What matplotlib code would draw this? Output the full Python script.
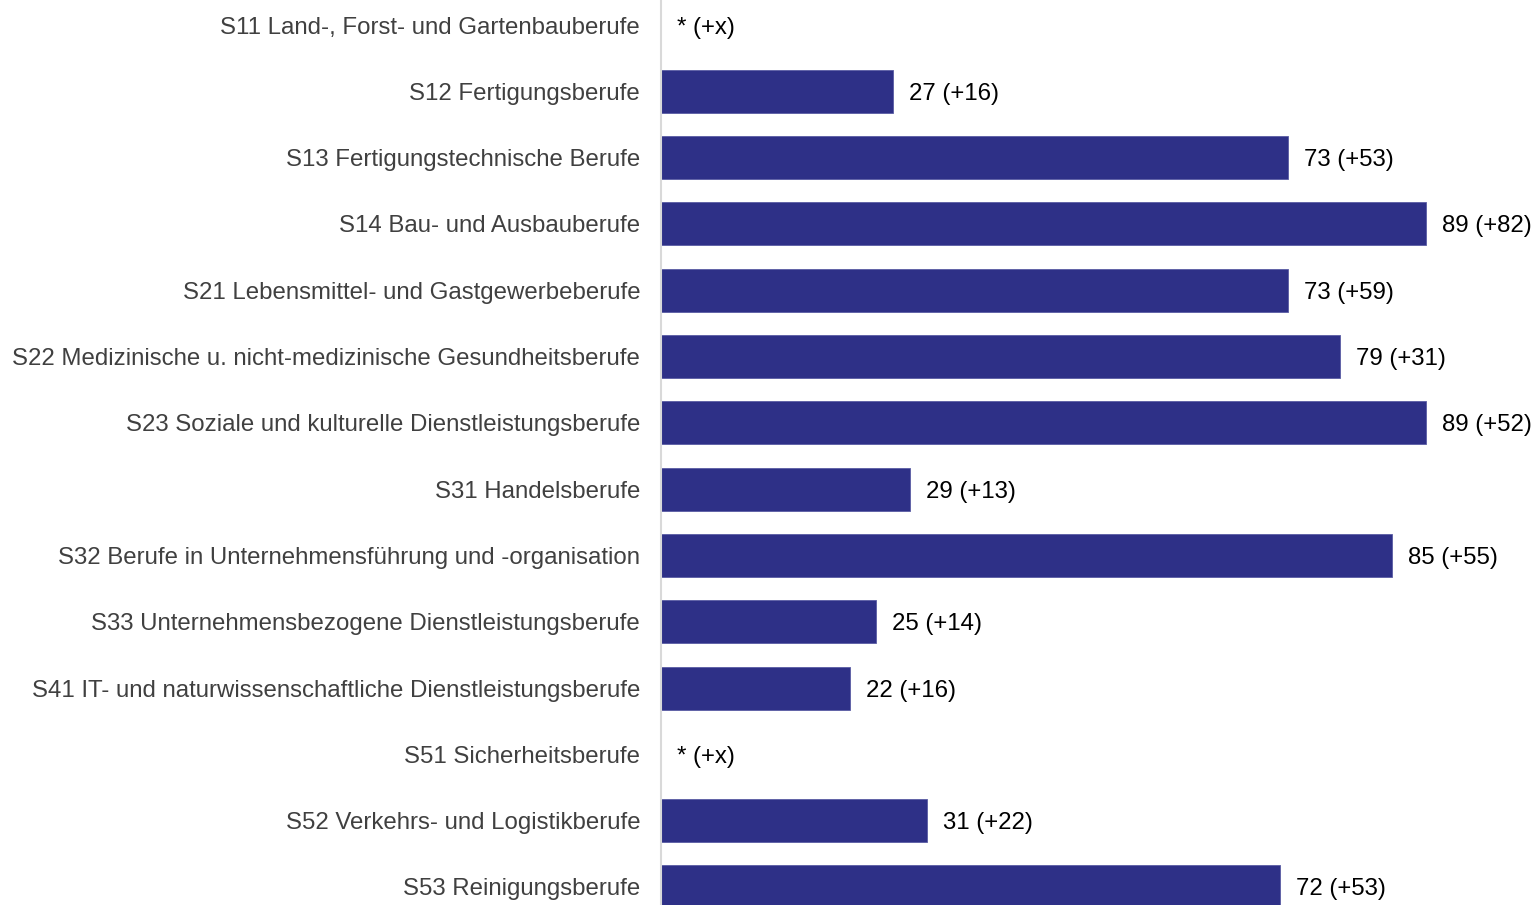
import matplotlib.pyplot as plt

plt.rcParams["font.family"] = ["Liberation Sans", "DejaVu Sans"]

categories = [
    "S11 Land-, Forst- und Gartenbauberufe",
    "S12 Fertigungsberufe",
    "S13 Fertigungstechnische Berufe",
    "S14 Bau- und Ausbauberufe",
    "S21 Lebensmittel- und Gastgewerbeberufe",
    "S22 Medizinische u. nicht-medizinische Gesundheitsberufe",
    "S23 Soziale und kulturelle Dienstleistungsberufe",
    "S31 Handelsberufe",
    "S32 Berufe in Unternehmensführung und -organisation",
    "S33 Unternehmensbezogene Dienstleistungsberufe",
    "S41 IT- und naturwissenschaftliche Dienstleistungsberufe",
    "S51 Sicherheitsberufe",
    "S52 Verkehrs- und Logistikberufe",
    "S53 Reinigungsberufe",
]
values = [0, 27, 73, 89, 73, 79, 89, 29, 85, 25, 22, 0, 31, 72]
value_labels = [
    "* (+x)", "27 (+16)", "73 (+53)", "89 (+82)", "73 (+59)", "79 (+31)",
    "89 (+52)", "29 (+13)", "85 (+55)", "25 (+14)", "22 (+16)", "* (+x)",
    "31 (+22)", "72 (+53)",
]

BAR_COLOR = "#2e3087"

fig = plt.figure(figsize=(15.35, 9.05), dpi=100)
ax = fig.add_axes([661 / 1535, 0, 1 - 661 / 1535, 1])

y = list(range(len(categories)))
ax.barh(y, values, height=0.65, color=BAR_COLOR, edgecolor="#5a5ca3", linewidth=0.6)

px_per_unit = 765 / 89
ax.set_xlim(0, (1535 - 661) / px_per_unit)
row = 66.3
ax.set_ylim(13 + 18 / row, -25 / row)

offset = 16 / px_per_unit
for yi, v, lab in zip(y, values, value_labels):
    ax.text(v + offset, yi, lab, va="center_baseline", ha="left", fontsize=17.3, color="black")

ax.set_yticks(y)
ax.set_yticklabels(categories, fontsize=17.3, color="#404040")
ax.tick_params(axis="y", length=0, pad=15)
ax.set_xticks([])

for side in ["top", "right", "bottom"]:
    ax.spines[side].set_visible(False)
ax.spines["left"].set_color("#d9d9d9")
ax.spines["left"].set_linewidth(1.5)

fig.savefig("out.png", dpi=100)
